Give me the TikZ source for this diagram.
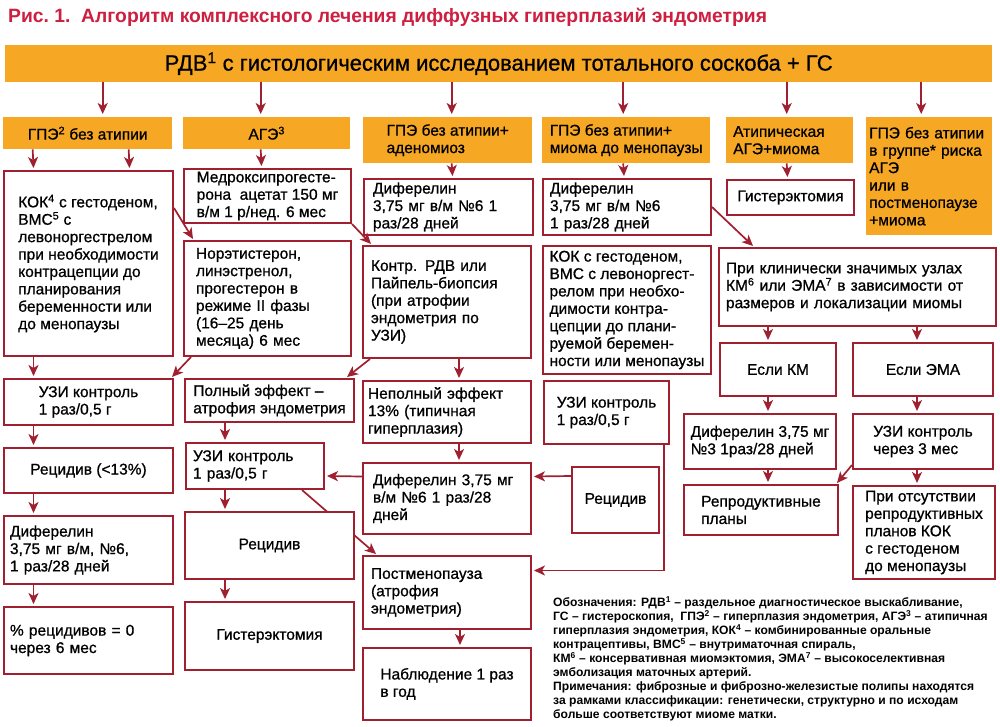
\documentclass[tikz,border=0pt]{standalone}
\usepackage{fontspec}
\setmainfont{Liberation Sans}
\newfontfamily\medfont{Liberation Sans}[FakeBold=0.8]
\usepackage{xcolor}
\usepackage{tikz}
\definecolor{framered}{RGB}{160, 32, 48}
\definecolor{titlered}{RGB}{205, 32, 65}
\definecolor{catorange}{RGB}{246, 167, 36}
\usetikzlibrary{arrows.meta, positioning, calc, backgrounds}
\newcommand\boxfont{\medfont\fontsize{15.5}{17.4}\selectfont}

\begin{document}
\begin{tikzpicture}[
    x=1pt, y=-1pt,
    node distance=21pt,
    box/.style={rectangle, draw=framered, line width=2pt, fill=white,
                anchor=north west, align=left, inner xsep=3pt, inner ysep=1pt, font=\boxfont},
    cat/.style={rectangle, fill=catorange, anchor=north west, align=left,
                inner xsep=3pt, inner ysep=1pt, font=\boxfont},
    arr/.style={-{Stealth[length=11pt, width=10pt, inset=3pt]}, framered, line width=1.7pt}
]
    \useasboundingbox (0,0) rectangle (1000,727);

    % title and top banner
    \node[anchor=west, inner sep=0pt, text=titlered, font=\fontsize{19.3}{22}\selectfont\bfseries] (title) at (8,17)
        {Рис.~1.\ \ Алгоритм комплексного лечения диффузных гиперплазий эндометрия};
    \node[cat, minimum width=987pt, minimum height=37pt, align=center, font=\medfont\fontsize{22}{24}\selectfont] (rdv) at (5,45)
        {РДВ\textsuperscript{1} с гистологическим исследованием тотального соскоба + ГС};

    % diagnoses
    \node[cat, minimum width=169pt, minimum height=32pt, align=center] (gpe) at (3,117) {ГПЭ\textsuperscript{2} без атипии};
    \node[cat, minimum width=167pt, minimum height=32pt, align=center] (age) at (183,117) {АГЭ\textsuperscript{3}};
    \node[cat, minimum width=169pt, minimum height=46pt] (aden) at (363,117) {ГПЭ без атипии+\\аденомиоз};
    \node[cat, minimum width=168pt, minimum height=46pt] (mioma) at (542,117) {ГПЭ без атипии+\\миома до менопаузы};
    \node[cat, text width=113pt, inner xsep=7pt, minimum height=46pt] (atyp) at (726,117) {Атипическая\\АГЭ+миома};
    \node[cat, text width=120pt, inner xsep=3pt, minimum height=118pt] (risk) at (866,117)
        {ГПЭ без атипии\\в группе* риска\\АГЭ\\или в\\постменопаузе\\+миома};

    % column 1
    \node[box, minimum width=169pt, minimum height=185pt] (kok1) at (3,170) {КОК\textsuperscript{4} с гестоденом,\\ВМС\textsuperscript{5} с\\левоноргестрелом\\при необходимости\\контрацепции до\\планирования\\беременности или\\до менопаузы};
    \node[box, minimum width=169pt, minimum height=46pt, below=of kok1] (uzi1) {УЗИ контроль\\1 раз/0,5 г};
    \node[box, minimum width=169pt, minimum height=45pt, align=center, below=of uzi1] (rec1) {Рецидив (<13\%)};
    \node[box, text width=157pt, inner xsep=6pt, minimum height=68pt, below=of rec1] (dif3) {Диферелин\\3,75 мг в/м, №6,\\1 раз/28 дней};
    \node[box, text width=157pt, inner xsep=6pt, minimum height=67pt, below=of dif3] (pct) {\% рецидивов = 0\\через 6 мес};

    % column 2
    \node[box, minimum width=167pt, minimum height=54pt] (medr) at (183,168) {Медроксипрогесте-\\рона~~ацетат 150 мг\\в/м 1 р/нед. 6 мес};
    \node[box, text width=143pt, inner xsep=12pt, minimum height=115pt] (noret) at (183,240) {Норэтистерон,\\линэстренол,\\прогестерон в\\режиме II фазы\\(16–25 день\\месяца) 6 мес};
    \node[box, minimum width=169pt, minimum height=43pt] (full) at (184,378) {Полный эффект –\\атрофия эндометрия};
    \node[box, text width=124pt, inner xsep=7pt, minimum height=46pt] (uzi2) at (185,442) {УЗИ контроль\\1 раз/0,5 г};
    \node[box, minimum width=169pt, minimum height=67pt, align=center] (rec2) at (184,511) {Рецидив};
    \node[box, minimum width=169pt, minimum height=68pt, align=center, below=of rec2] (hyst2) {Гистерэктомия};

    % column 3
    \node[box, text width=151pt, inner xsep=9pt, minimum height=56pt] (dif1) at (363,178) {Диферелин\\3,75 мг в/м №6 1\\раз/28 дней};
    \node[box, text width=152pt, inner xsep=8pt, minimum height=112pt] (kontr) at (362,245) {Контр. РДВ или\\Пайпель-биопсия\\(при атрофии\\эндометрия по\\УЗИ)};
    \node[box, text width=158pt, inner xsep=5pt, minimum height=62pt] (nepoln) at (362,380) {Неполный эффект\\13\% (типичная\\гиперплазия)};
    \node[box, text width=148pt, inner xsep=10pt, minimum height=71pt] (dif5) at (362,462) {Диферелин 3,75 мг\\в/м №6 1 раз/28\\дней};
    \node[box, text width=152pt, inner xsep=8pt, minimum height=73pt] (postm) at (362,555) {Постменопауза\\(атрофия\\эндометрия)};
    \node[box, minimum width=168pt, minimum height=72pt] (nabl) at (362,647) {Наблюдение 1 раз\\в год};

    % column 4
    \node[box, text width=154pt, inner xsep=7pt, minimum height=56pt] (dif2) at (542,178) {Диферелин\\3,75 мг в/м №6\\1 раз/28 дней};
    \node[box, minimum width=168pt, minimum height=128pt] (kok2) at (542,245) {КОК с гестоденом,\\ВМС с левоноргест-\\релом при необхо-\\димости контра-\\цепции до плани-\\руемой беремен-\\ности или менопаузы};
    \node[box, minimum width=125pt, minimum height=63pt] (uzi3) at (543,380) {УЗИ контроль\\1 раз/0,5 г};
    \node[box, minimum width=87pt, minimum height=66pt, align=center] (rec3) at (571,466) {Рецидив};

    % columns 5 and 6
    \node[box, minimum width=127pt, minimum height=35pt, align=center] (hyst1) at (726,179) {Гистерэктомия};
    \node[box, text width=263pt, inner xsep=7pt, minimum height=78pt] (klin) at (718,247) {При клинически значимых узлах\\КМ\textsuperscript{6} или ЭМА\textsuperscript{7} в зависимости от\\размеров и локализации миомы};
    \node[box, minimum width=116pt, minimum height=53pt, align=center] (eslikm) at (719,342) {Если КМ};
    \node[box, minimum width=140pt, minimum height=53pt, align=center] (eslema) at (852,342) {Если ЭМА};
    \node[box, minimum width=152pt, minimum height=55pt] (dif4) at (683,413) {Диферелин 3,75 мг\\№3 1раз/28 дней};
    \node[box, minimum width=140pt, minimum height=55pt] (uzi4) at (852,413) {УЗИ контроль\\через 3 мес};
    \node[box, minimum width=154pt, minimum height=50pt] (repro) at (683,484) {Репродуктивные\\планы};
    \node[box, minimum width=142pt, minimum height=93pt] (noplan) at (852,485) {При отсутствии\\репродуктивных\\планов КОК\\с гестоденом\\до менопаузы};

    % legend
    \node[anchor=north west, align=left, inner sep=0pt, font=\fontsize{12.1}{14}\selectfont\bfseries] (legend) at (553,596)
        {Обозначения: РДВ\textsuperscript{1} – раздельное диагностическое выскабливание,\\
         ГС – гистероскопия,~~ГПЭ\textsuperscript{2} – гиперплазия эндометрия, АГЭ\textsuperscript{3} – атипичная\\
         гиперплазия эндометрия, КОК\textsuperscript{4} – комбинированные оральные\\
         контрацептивы, ВМС\textsuperscript{5} – внутриматочная спираль,\\
         КМ\textsuperscript{6} – консервативная миомэктомия, ЭМА\textsuperscript{7} – высокоселективная\\
         эмболизация маточных артерий.\\
         Примечания: фиброзные и фиброзно-железистые полипы находятся\\
         за рамками классификации: генетически, структурно и по исходам\\
         больше соответствуют миоме матки.};

    % arrows from the banner
    \foreach \nd/\dx in {gpe/15, age/-6, aden/4, mioma/-3, atyp/-3, risk/-8}
        \draw[arr] ($(\nd.north |- rdv.south)+(\dx,0)$) -- ($(\nd.north)+(\dx,-3)$);

    \draw[arr] ($(gpe.south)+(-55,0)$) -- ($(kok1.north)+(-55,-2)$);
    \draw[arr] ($(gpe.south)+(41,0)$) -- ($(kok1.north)+(41,-2)$);
    \draw[arr] ($(age.south)+(-6,0)$) -- ($(medr.north)+(-6,-2)$);
    \draw[arr] ($(aden.south)+(4,0)$) -- ($(dif1.north)+(4,-2)$);
    \draw[arr] ($(mioma.south)+(-3,0)$) -- ($(dif2.north)+(-3,-2)$);
    \draw[arr] ($(atyp.south)+(-3,0)$) -- ($(hyst1.north)+(-3,-2)$);

    % column 1 chain
    \foreach \a/\b in {kok1/uzi1, uzi1/rec1, rec1/dif3, dif3/pct}
        \draw[arr] ($(\a.south)+(-55,0)$) -- ($(\b.north)+(-55,-2)$);

    % diagonals
    \draw[arr] ($(kok1.north east)+(0,38)$) -- ($(noret.north west)+(10,-1)$);
    \draw[arr] ($(noret.south west)+(8,0)$) -- ($(uzi1.north east)+(-2,-1)$);
    \draw[arr] (medr.south east) -- ($(kontr.north west)+(9,-1)$);
    \draw[arr] ($(kontr.south west)+(8,0)$) -- ($(full.north east)+(-8,-1)$);

    % column 2 chain
    \draw[arr] ($(full.south west)+(41,0)$) -- ($(uzi2.north west)+(40,-2)$);
    \draw[arr] ($(uzi2.south west)+(40,0)$) -- ($(rec2.north west)+(41,-2)$);
    \draw[arr] ($(rec2.south west)+(41,0)$) -- ($(hyst2.north west)+(41,-2)$);

    % column 3 chain
    \draw[arr] ($(kontr.south)+(12,0)$) -- ($(nepoln.north)+(12,-2)$);
    \draw[arr] ($(nepoln.south)+(12,0)$) -- ($(dif5.north)+(12,-2)$);
    \draw[arr] ($(dif5.west)+(0,-22)$) -- ($(uzi2.east)+(2,10)$);
    \draw[arr] ($(rec3.west)+(0,-24)$) -- ($(dif5.east)+(2,-22)$);
    \draw[arr] ($(uzi3.south east)+(-6,0)$) |- ($(postm.east)+(2,-22)$);
    \draw[arr] ($(postm.south)+(13,0)$) -- ($(nabl.north)+(13,-2)$);

    % myoma branch
    \draw[arr] (dif2.east) -- ($(klin.north west)+(35,-1)$);
    \draw[arr] ($(klin.south west)+(50,0)$) -- ($(eslikm.north west)+(49,-2)$);
    \draw[arr] ($(klin.south west)+(199,0)$) -- ($(eslema.north west)+(65,-2)$);
    \draw[arr] ($(eslikm.south west)+(49,0)$) -- ($(dif4.north west)+(85,-2)$);
    \draw[arr] ($(eslema.south west)+(65,0)$) -- ($(uzi4.north west)+(65,-2)$);
    \draw[arr] ($(dif4.south west)+(85,0)$) -- ($(repro.north west)+(85,-2)$);
    \draw[arr] ($(uzi4.south west)+(65,0)$) -- ($(noplan.north west)+(65,-2)$);
    \draw[arr] ($(uzi4.south west)+(0,-5)$) -- ($(repro.north east)+(-2,-1)$);

    \begin{scope}[on background layer]
        \fill[white] (0,0) rectangle (1000,727);
        \draw[arr] ($(uzi2.south east)+(-23,0)$) -- ($(postm.north west)+(14,-1)$);
    \end{scope}
\end{tikzpicture}
\end{document}
